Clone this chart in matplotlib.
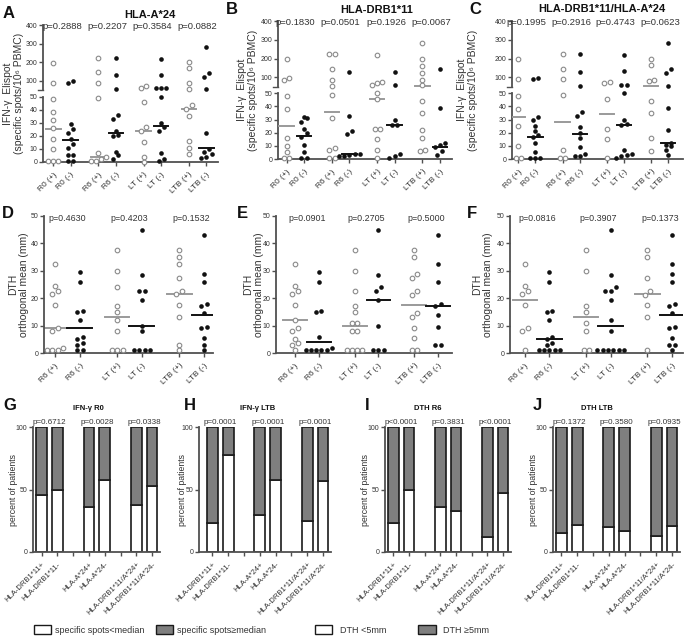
import numpy as np
import matplotlib.pyplot as plt
from matplotlib.patches import Patch

plt.rcParams['font.family'] = ['Liberation Sans', 'DejaVu Sans']

# IFN-gamma Elispot, panels A-C
ifn_labels = ['R0 (+)', 'R0 (-)', 'R6 (+)', 'R6 (-)', 'LT (+)', 'LT (-)', 'LTB (+)', 'LTB (-)']

a_pts = [[195, 91, 48, 38, 32, 26, 18, 10, 1, 1, 1],
         [98, 90, 29, 25, 22, 18, 14, 11, 5, 5, 1, 1],
         [225, 150, 91, 49, 7, 4, 2, 1, 1],
         [225, 132, 57, 36, 33, 24, 21, 20, 8, 5, 2],
         [75, 62, 46, 27, 24, 15, 4, 0],
         [217, 132, 60, 60, 60, 50, 30, 27, 24, 7, 2, 1],
         [203, 167, 88, 58, 44, 41, 35, 16, 11, 6],
         [280, 145, 122, 57, 22, 10, 8, 6, 4, 3]]
a_med = [25, 16.5, 4, 22.5, 24, 27.5, 41, 10.5]
a_p = ['p=0.2888', 'p=0.2207', 'p=0.3584', 'p=0.0882']

b_pts = [[195, 95, 88, 48, 38, 16, 10, 5, 1, 1],
         [32, 31, 28, 23, 20, 17, 11, 5, 1, 1],
         [225, 225, 145, 88, 55, 49, 31, 8, 7, 1, 1],
         [130, 33, 21, 19, 4, 4, 3, 2, 2],
         [218, 75, 72, 60, 50, 46, 23, 23, 15, 7, 1],
         [130, 60, 30, 26, 26, 4, 2, 1],
         [281, 200, 162, 121, 86, 59, 44, 35, 22, 16, 7, 6],
         [143, 39, 12, 11, 9, 6, 3]]
b_med = [25, 17.5, 36, 4, 46, 26, 54, 9]
b_p = ['p=0.1830', 'p=0.0501', 'p=0.1926', 'p=0.0067']

c_pts = [[195, 90, 48, 38, 25, 10, 1, 1],
         [98, 90, 32, 30, 25, 21, 18, 17, 12, 5, 1, 1, 1],
         [225, 145, 90, 49, 7, 1, 1],
         [225, 130, 56, 36, 33, 24, 20, 16, 9, 4, 2, 2],
         [77, 72, 46, 23, 15, 1],
         [218, 133, 60, 60, 50, 30, 27, 26, 7, 4, 3, 2, 1],
         [200, 166, 86, 78, 44, 35, 16, 6],
         [281, 145, 122, 56, 39, 22, 12, 11, 10, 7, 3]]
c_med = [32, 17, 28, 19, 34, 26, 55, 12]
c_p = ['p=0.1995', 'p=0.2916', 'p=0.4743', 'p=0.0623']

# DTH, panels D-F
dth_labels = ['R6 (+)', 'R6 (-)', 'LT (+)', 'LT (-)', 'LTB (+)', 'LTB (-)']

d_pts = [[32.5, 24.5, 22.5, 21.5, 17.5, 9, 8, 2, 1, 1, 1],
         [29.5, 26, 15.5, 15, 12, 6, 5, 3.5, 3, 1, 1],
         [37.5, 30, 24, 17, 15, 12, 8, 1, 1, 1],
         [45, 28.5, 22.5, 22.5, 19.5, 10, 8, 1, 1, 1, 1],
         [37.5, 35, 32.5, 27.5, 22.5, 21.5, 17.5, 13, 3, 1],
         [43, 29, 26, 18, 17, 14.5, 9.5, 9, 5.5, 3, 1]]
d_med = [9, 9, 13, 10, 21.5, 14]
d_p = ['p=0.4630', 'p=0.4203', 'p=0.1532']

e_pts = [[32.5, 24.5, 22.5, 21.5, 17.5, 12, 9, 8, 5, 3.5, 3, 1],
         [29.5, 26, 15.5, 15, 6, 2, 1, 1, 1, 1, 1],
         [37.5, 30, 22.5, 17, 15, 11, 11, 8, 8, 1, 1, 1, 1],
         [45, 28.5, 24, 22.5, 19.5, 10, 1, 1, 1],
         [37.5, 35, 29, 27.5, 22.5, 21, 14.5, 13, 9, 5.5, 1, 1],
         [43, 32.5, 26, 18, 17, 14, 9.5, 3, 3]]
e_med = [12, 4, 10, 19.5, 17.5, 17]
e_p = ['p=0.0901', 'p=0.2705', 'p=0.5000']

f_pts = [[32.5, 24.5, 22.5, 21.5, 17.5, 9, 8, 1],
         [29.5, 26, 15.5, 15, 12, 6, 5, 3.5, 3, 1, 1, 1, 1, 1],
         [37.5, 30, 17, 15, 11, 8, 1, 1],
         [45, 28.5, 24, 22.5, 22.5, 19.5, 12, 8, 1, 1, 1, 1, 1, 1],
         [37.5, 35, 27.5, 22.5, 21, 17.5, 13, 1],
         [43, 32.5, 29, 26, 18, 17, 14.5, 9.5, 9, 5.5, 3, 3, 1]]
f_med = [19.5, 5, 13, 10, 21.5, 14]
f_p = ['p=0.0816', 'p=0.3907', 'p=0.1373']

# percent of patients below threshold, panels G-J
bar_labels = ['HLA-DRB1*11+', 'HLA-DRB1*11-', '', 'HLA-A*24+', 'HLA-A*24-', '',
              'HLA-DRB1*11/A*24+', 'HLA-DRB1*11/A*24-']
g_low = [46, 50, 36, 58, 38, 53]
h_low = [23, 78, 30, 58, 25, 57]
i_low = [23, 50, 36, 33, 12, 47]
j_low = [15, 22, 20, 17, 13, 21]
g_p = ['p=0.6712', 'p=0.0028', 'p=0.0338']
h_p = ['p=0.0001', 'p=0.0001', 'p=0.0001']
i_p = ['p<0.0001', 'p=0.3831', 'p<0.0001']
j_p = ['p=0.1372', 'p=0.3580', 'p=0.0935']

W, H = 685, 637
fig = plt.figure(figsize=(W / 100, H / 100), dpi=100)
LINE = '#505050'
TXT = '#333333'
GREY = '#7f7f7f'


def add_ax(l, t, r, b):
    return fig.add_axes([l / W, 1 - b / H, (r - l) / W, (b - t) / H])


# broken y axis: 0-50 linear, then 50-400 compressed
def fwd(y):
    y = np.asarray(y, float)
    return np.where(y <= 50, y, 55 + (y - 50) / 7.0)


def inv(t):
    t = np.asarray(t, float)
    return np.where(t <= 50, t, np.where(t < 55, 50, 50 + (t - 55) * 7.0))


def swarm(t, dy, dx):
    order = np.argsort(t)
    offs = np.zeros(len(t))
    rows, row = [], []
    for i in order:
        if row and t[i] - t[row[0]] >= dy:
            rows.append(row)
            row = []
        row.append(i)
    rows.append(row)
    for r in rows:
        n = len(r)
        offs[r] = (np.arange(n) - (n - 1) / 2) * dx
    return offs


def style(ax, ysize):
    for s in ['top', 'right']:
        ax.spines[s].set_visible(False)
    for s in ['left', 'bottom']:
        ax.spines[s].set_color(LINE)
        ax.spines[s].set_linewidth(1.3)
    ax.tick_params(colors=LINE, labelcolor=TXT, length=3, width=1)
    ax.tick_params(axis='y', labelsize=ysize, pad=1)


def scatter_panel(ax, pts, med, pv, labels, xs, half, dy, dx, tf, py, psize):
    for k in range(len(pts)):
        v = np.asarray(pts[k], float)
        x = xs[k] + swarm(tf(v), dy, dx)
        if k % 2 == 0:
            ax.scatter(x, v, s=11, facecolors='white', edgecolors='#8a8a8a',
                       linewidths=0.8, clip_on=False, zorder=3)
            mc = '#9a9a9a'
        else:
            ax.scatter(x, v, s=11, color='#111111', linewidths=0, clip_on=False, zorder=3)
            mc = '#111111'
        ax.plot([xs[k] - half, xs[k] + half], [med[k], med[k]], color=mc, lw=1.4, zorder=2)
    for j, p in enumerate(pv):
        ax.text((xs[2 * j] + xs[2 * j + 1]) / 2, py, p, ha='center', va='center',
                fontsize=psize, color=TXT)
    ax.set_xticks(xs)
    ax.set_xticklabels(labels, rotation=45, ha='right', rotation_mode='anchor', fontsize=6)


# ---- top row
xs_top = [1 + 2.6 * k + j for k in range(4) for j in (0, 1)]
top = [(a_pts, a_med, a_p, (43, 25, 218, 162), (0.41, 10.47), -0.11),
       (b_pts, b_med, b_p, (278, 21, 452, 159), (0.5, 10.5), -0.115),
       (c_pts, c_med, c_p, (512, 21, 683, 159), (0.63, 10.66), -0.2)]
for pts, med, pv, rect, xl, lx in top:
    ax = add_ax(*rect)
    ax.set_yscale('function', functions=(fwd, inv))
    style(ax, 5)
    ax.spines['left'].set_visible(False)
    tr = ax.get_yaxis_transform()
    ax.plot([0, 0], [0, 50], transform=tr, color=LINE, lw=1.3, clip_on=False)
    ax.plot([0, 0], [50.01, 400], transform=tr, color=LINE, lw=1.3, clip_on=False)
    ax.plot([-0.03, 0], [50.01, 50.01], transform=tr, color=LINE, lw=1.0, clip_on=False)
    scatter_panel(ax, pts, med, pv, ifn_labels, xs_top, 0.42, 3.5, 0.3, fwd, 390, 6.8)
    ax.set_ylim(0, 400)
    ax.set_xlim(*xl)
    ax.set_yticks([0, 10, 20, 30, 40, 50, 100, 200, 300, 400])
    ax.set_ylabel('IFN-γ  Elispot\n(specific spots/10⁶ PBMC)', fontsize=7.5, color=TXT,
                  linespacing=1.1)
    ax.yaxis.set_label_coords(lx, 0.5)

# ---- middle row
xs_mid = [1 + 2.5 * k + j for k in range(3) for j in (0, 1)]
mid = [(d_pts, d_med, d_p, (44, 216, 213, 353), (0.56, 7.36), -0.09),
       (e_pts, e_med, e_p, (276, 216, 452, 353), (0.2, 7.59), -0.07),
       (f_pts, f_med, f_p, (510, 216, 683, 353), (0.39, 7.45), -0.1)]
for pts, med, pv, rect, xl, lx in mid:
    ax = add_ax(*rect)
    style(ax, 5)
    scatter_panel(ax, pts, med, pv, dth_labels, xs_mid, 0.5, 1.6, 0.22,
                  lambda v: v, 49, 6.4)
    ax.set_ylim(0, 50)
    ax.set_xlim(*xl)
    ax.set_yticks([0, 10, 20, 30, 40, 50])
    ax.set_ylabel('DTH\northogonal mean (mm)', fontsize=7.5, color=TXT, linespacing=1.1)
    ax.yaxis.set_label_coords(lx, 0.5)

# ---- bottom row
slots = [0, 1, 3, 4, 6, 7]
bot = [(g_low, g_p, (33, 427, 160, 552), -0.55, -0.12),
       (h_low, h_p, (199, 427, 331, 552), -0.85, -0.09),
       (i_low, i_p, (385, 427, 511, 552), -0.53, -0.12),
       (j_low, j_p, (553, 427, 680, 552), -0.53, -0.12)]
for low, pv, rect, x0, lx in bot:
    ax = add_ax(*rect)
    style(ax, 5)
    low = np.asarray(low, float)
    ax.bar(slots, low, width=0.68, color='white', edgecolor='#1a1a1a', lw=1.2, zorder=2)
    ax.bar(slots, 100 - low, bottom=low, width=0.68, color=GREY, edgecolor='#1a1a1a',
           lw=1.2, zorder=2)
    for j, p in enumerate(pv):
        ax.text(slots[2 * j] + 0.5, 100.5, p, ha='center', va='bottom', fontsize=5.8,
                color=TXT)
    ax.set_xlim(x0, 7.5)
    ax.set_ylim(0, 100)
    ax.set_yticks([0, 50, 100])
    ax.set_xticks(range(8))
    ax.set_xticklabels(bar_labels, rotation=45, ha='right', rotation_mode='anchor',
                       fontsize=5.5)
    ax.set_ylabel('percent of patients', fontsize=6.3, color=TXT)
    ax.yaxis.set_label_coords(lx, 0.5)

# titles and panel letters (pixel positions)
titles = [('HLA-A*24', 150, 15, 8), ('HLA-DRB1*11', 377, 10, 8),
          ('HLA-DRB1*11/HLA-A*24', 602, 9, 8),
          ('IFN-γ R0', 88, 408, 5.5), ('IFN-γ LTB', 258, 408, 5.5),
          ('DTH R6', 428, 408, 5.5), ('DTH LTB', 597, 408, 5.5)]
for s, x, y, fs in titles:
    fig.text(x / W, 1 - y / H, s, ha='center', va='center', fontsize=fs,
             fontweight='bold', color='#111111')

letters = [('A', 9, 13), ('B', 232, 10), ('C', 475, 10), ('D', 8, 214), ('E', 242, 213),
           ('F', 472, 213), ('G', 10, 405), ('H', 190, 405), ('I', 367, 405),
           ('J', 537, 405)]
for s, x, y in letters:
    fig.text(x / W, 1 - y / H, s, ha='center', va='center', fontsize=12,
             fontweight='bold', color='#111111')

# legends
h_white = Patch(facecolor='white', edgecolor='#1a1a1a', lw=1)
h_grey = Patch(facecolor=GREY, edgecolor='#1a1a1a', lw=1)
fig.legend([h_white, h_grey], ['specific spots<median', 'specific spots≥median'],
           loc='center', bbox_to_anchor=(150 / W, 1 - 630 / H), ncol=2, frameon=False,
           fontsize=6.5, handlelength=1.9, handleheight=1.1, handletextpad=0.4,
           columnspacing=1.3, borderpad=0, labelcolor=TXT)
fig.legend([h_white, h_grey], ['DTH <5mm', 'DTH ≥5mm'],
           loc='center', bbox_to_anchor=(402 / W, 1 - 630 / H), ncol=2, frameon=False,
           fontsize=6.5, handlelength=1.9, handleheight=1.1, handletextpad=0.8,
           columnspacing=3.6, borderpad=0, labelcolor=TXT)

fig.savefig('out.png', dpi=100)
